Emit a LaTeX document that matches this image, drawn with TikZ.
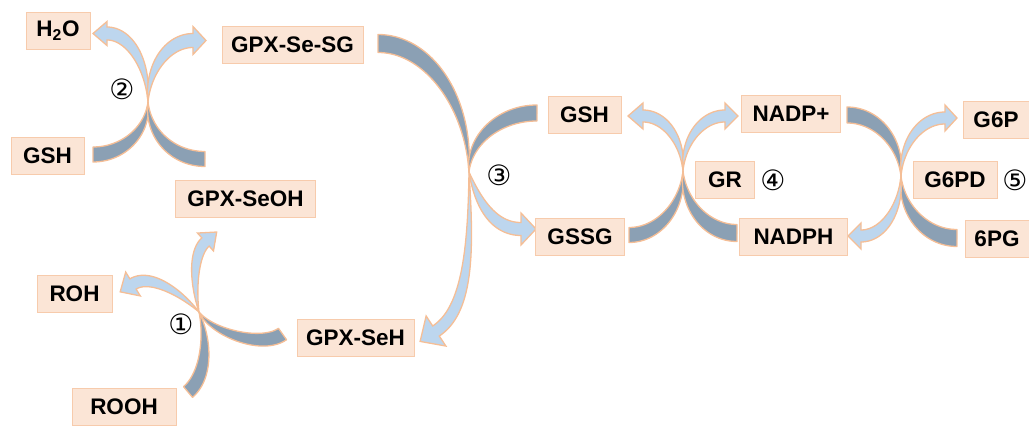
\documentclass[tikz,border=0pt]{standalone}
\usepackage{fontspec}
\setmainfont{Liberation Sans}
\newfontfamily\symfont{DejaVu Sans}

\definecolor{boxfill}{HTML}{FBE5D6}
\definecolor{boxline}{HTML}{F7CBAC}
\definecolor{armline}{HTML}{F5BE96}
\definecolor{armblue}{HTML}{BDD6EE}
\definecolor{armgray}{HTML}{8BA0B4}

% A tapered curved arm: the mid line is a cubic Bezier P0..P3, the width grows
% from 0 at P0 to w at P3; an optional arrow head (half width / length) sits at P3.
\def\armset#1/#2/#3/#4/#5/#6/#7/#8/#9\relax{%
  \def\Pax{#1}\def\Pay{#2}\def\Pbx{#3}\def\Pby{#4}%
  \def\Pcx{#5}\def\Pcy{#6}\def\Pdx{#7}\def\Pdy{#8}\def\Pw{#9}}
\def\headset#1/#2\relax{\def\Phw{#1}\def\Phl{#2}}
\def\armBx{((1-\t)*(1-\t)*(1-\t)*\Pax+3*(1-\t)*(1-\t)*\t*\Pbx+3*(1-\t)*\t*\t*\Pcx+\t*\t*\t*\Pdx)}
\def\armBy{((1-\t)*(1-\t)*(1-\t)*\Pay+3*(1-\t)*(1-\t)*\t*\Pby+3*(1-\t)*\t*\t*\Pcy+\t*\t*\t*\Pdy)}
\def\armDx{((1-\t)*(1-\t)*(\Pbx-\Pax)+2*(1-\t)*\t*(\Pcx-\Pbx)+\t*\t*(\Pdx-\Pcx))}
\def\armDy{((1-\t)*(1-\t)*(\Pby-\Pay)+2*(1-\t)*\t*(\Pcy-\Pby)+\t*\t*(\Pdy-\Pcy))}
\def\armH{(0.5*\Pw*sin(90*\t))}
\newcommand\arm[3]{%
  \armset#1\relax\headset#2\relax
  \pgfmathsetmacro\Pux{\Pdx-\Pcx}\pgfmathsetmacro\Puy{\Pdy-\Pcy}%
  \pgfmathsetmacro\Pul{veclen(\Pux,\Puy)}%
  \pgfmathsetmacro\Pux{\Pux/\Pul}\pgfmathsetmacro\Puy{\Puy/\Pul}%
  \filldraw[#3]
    plot[domain=0:1,samples=40,variable=\t]
      ({\armBx-\armH*\armDy/veclen(\armDx,\armDy)},{\armBy+\armH*\armDx/veclen(\armDx,\armDy)})
    -- ({\Pdx-(\Phw)*(\Puy)},{\Pdy+(\Phw)*(\Pux)})
    -- ({\Pdx+(\Phl)*(\Pux)},{\Pdy+(\Phl)*(\Puy)})
    -- ({\Pdx+(\Phw)*(\Puy)},{\Pdy-(\Phw)*(\Pux)})
    -- plot[domain=1:0,samples=40,variable=\t]
      ({\armBx+\armH*\armDy/veclen(\armDx,\armDy)},{\armBy-\armH*\armDx/veclen(\armDx,\armDy)})
    -- cycle;}

\tikzset{
  box/.style={draw=boxline, fill=boxfill, line width=1pt, minimum height=37,
    inner sep=0pt, text=black, font=\fontsize{22.5}{22.5}\selectfont\bfseries},
  tailarm/.style={fill=armgray, draw=armline, line width=1.3pt, line join=round},
  headarm/.style={fill=armblue, draw=armline, line width=1.3pt, line join=miter},
  stepnum/.style={inner sep=0pt, text=black, font=\symfont\fontsize{28}{28}\selectfont},
}

\begin{document}
\begin{tikzpicture}[x=1pt,y=-1pt]
\useasboundingbox (0,0) rectangle (1029,426);

% reaction centres
\coordinate (c1) at (199,312);
\coordinate (c2) at (148,102);
\coordinate (c3) at (469,172);
\coordinate (c4) at (683,171);
\coordinate (c5) at (901,176);

% reaction 2: GPX-SeOH + GSH -> GPX-Se-SG + H2O
\arm{148/102/148/130.9/123.3/154.5/93/154.5/15}{0/0}{tailarm}
\arm{148/102/148/134.5/173.6/159/205/159/15}{0/0}{tailarm}
\arm{148/102/148/64.3/129.6/33.5/107/33.5/13}{12/14}{headarm}
\arm{148/102/148/68.2/168.2/40.5/193/40.5/14}{14/13}{headarm}

% reaction 3: GPX-Se-SG + GSH -> GPX-SeH + GSSG
\arm{469/172/469/101.3/428/43.5/378/43.5/18}{0/0}{tailarm}
\arm{469/172/469/139.6/499.6/113/537/113/16}{0/0}{tailarm}
\arm{469/172/471/250/468/310/436/331/12}{18/19}{headarm}
\arm{469/172/476/195/490/229/521/229/13}{16/15}{headarm}

% reaction 4: GSSG + NADPH -> GSH + NADP+
\arm{683/171/683/206/658.7/235/629/235/15}{0/0}{tailarm}
\arm{683/171/683/205/707.3/233/737/233/17}{0/0}{tailarm}
\arm{683/171/683/140.8/665/116/643/116/12}{13/15}{headarm}
\arm{683/171/683/140.8/701.9/116/725/116/12}{13/13}{headarm}

% reaction 5: NADP+ + G6P -> NADPH + 6PG
\arm{901/176/901/142.5/876.7/115/847/115/16}{0/0}{tailarm}
\arm{901/176/901/210/926.2/238/957/238/17}{0/0}{tailarm}
\arm{901/176/901/209/883/236/861/236/12}{13/13}{headarm}
\arm{901/176/901/144/920.8/118/945/118/12}{13/12}{headarm}

% reaction 1: GPX-SeH + ROOH -> GPX-SeOH + ROH
\arm{199/312/212/333/262/348.5/282.5/334/14}{0/0}{tailarm}
\arm{199/312/208/338/207/376/188/392/14}{0/0}{tailarm}
\arm{199/312/180/292/150/273.6/133/284/12}{14/15}{headarm}
\arm{199/312/193/285/193.5/252.7/205.5/242/11}{12/15}{headarm}

% species
\node[box, minimum width=64]  (h2o)     at (58,30.5)    {H\textsubscript{2}O};
\node[box, minimum width=141] (gpxsesg) at (292.5,44.5) {GPX-Se-SG};
\node[box, minimum width=73]  (gsha)    at (47.5,155.5) {GSH};
\node[box, minimum width=140] (gpxseoh) at (245.5,198.5){GPX-SeOH};
\node[box, minimum width=75]  (roh)     at (74.5,293.5) {ROH};
\node[box, minimum width=104] (rooh)    at (124,406.5)  {ROOH};
\node[box, minimum width=117] (gpxseh)  at (355.5,337.5){GPX-SeH};
\node[box, minimum width=73]  (gshb)    at (584.5,114.5){GSH};
\node[box, minimum width=89]  (gssg)    at (580,236.5)  {GSSG};
\node[box, minimum width=99]  (nadpp)   at (791,113.5)  {NADP+};
\node[box, minimum width=59]  (gr)      at (725,179.5)  {GR};
\node[box, minimum width=108] (nadph)   at (793.5,236.5){NADPH};
\node[box, minimum width=66]  (g6p)     at (996,119.5)  {G6P};
\node[box, minimum width=84]  (g6pd)    at (955,179.5)  {G6PD};
\node[box, minimum width=64]  (pg6)     at (997,238.5)  {6PG};

% step numbers
\node[stepnum] (n1) at (181,324) {①};
\node[stepnum] (n2) at (122,89)  {②};
\node[stepnum] (n3) at (499,175) {③};
\node[stepnum] (n4) at (773,180) {④};
\node[stepnum] (n5) at (1015,180){⑤};
\end{tikzpicture}
\end{document}
